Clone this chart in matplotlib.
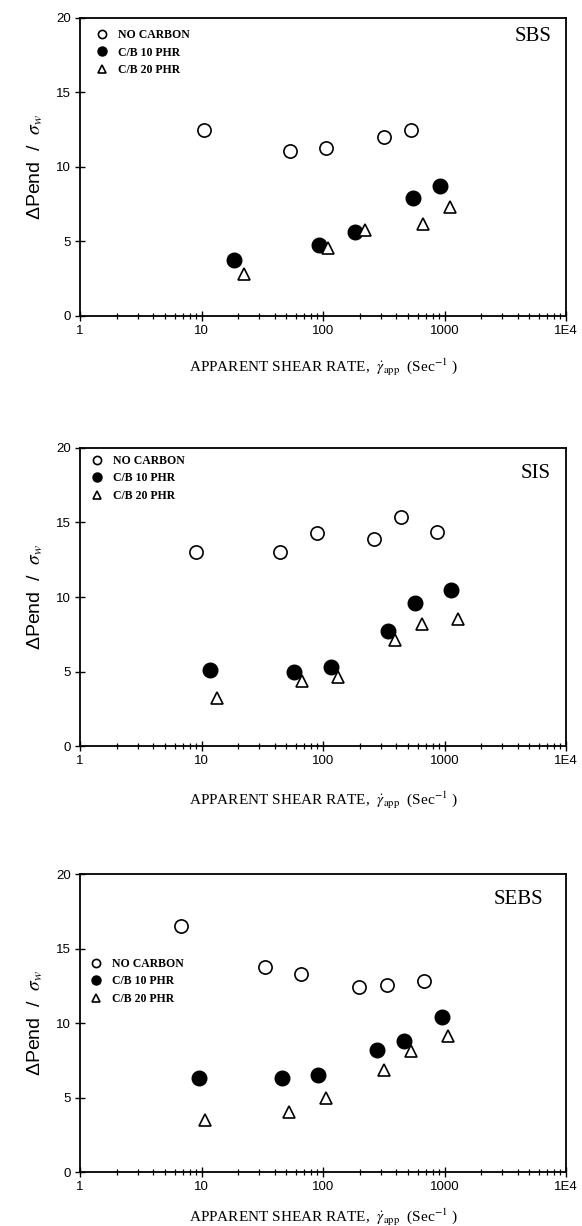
import matplotlib
matplotlib.use('Agg')
import matplotlib.pyplot as plt
import numpy as np

plt.rcParams['font.family'] = ['Liberation Sans', 'DejaVu Sans']
plt.rcParams['mathtext.fontset'] = 'stix'

# SBS
sbs_none_x = [10.5, 54, 106, 319, 529]
sbs_none_y = [12.5, 11.1, 11.3, 12.0, 12.5]
sbs_c10_x = [18.5, 92, 183, 552, 916]
sbs_c10_y = [3.75, 4.75, 5.6, 7.9, 8.7]
sbs_c20_x = [22.4, 110, 221, 667, 1115]
sbs_c20_y = [2.8, 4.55, 5.8, 6.2, 7.3]

# SIS
sis_none_x = [9.0, 44, 89, 264, 438, 872]
sis_none_y = [13.05, 13.05, 14.3, 13.9, 15.35, 14.35]
sis_c10_x = [11.7, 58, 117, 342, 572, 1130]
sis_c10_y = [5.1, 5.0, 5.3, 7.7, 9.6, 10.5]
sis_c20_x = [13.3, 67, 132, 394, 653, 1302]
sis_c20_y = [3.2, 4.35, 4.6, 7.1, 8.2, 8.5]

# SEBS
sebs_none_x = [6.8, 33, 66.5, 198, 335, 677]
sebs_none_y = [16.5, 13.75, 13.3, 12.4, 12.55, 12.85]
sebs_c10_x = [9.5, 46, 91, 277, 463, 948]
sebs_c10_y = [6.3, 6.3, 6.5, 8.2, 8.8, 10.4]
sebs_c20_x = [10.7, 52, 105, 315, 529, 1069]
sebs_c20_y = [3.5, 4.0, 4.95, 6.85, 8.15, 9.1]

labels = ['NO CARBON', 'C/B 10 PHR', 'C/B 20 PHR']
xticks = [1, 10, 100, 1000, 10000]
xticklabels = ['1', '10', '100', '1000', '1E4']
yticks = [0, 5, 10, 15, 20]

panels = [
    ('SBS', sbs_none_x, sbs_none_y, sbs_c10_x, sbs_c10_y, sbs_c20_x, sbs_c20_y),
    ('SIS', sis_none_x, sis_none_y, sis_c10_x, sis_c10_y, sis_c20_x, sis_c20_y),
    ('SEBS', sebs_none_x, sebs_none_y, sebs_c10_x, sebs_c10_y, sebs_c20_x, sebs_c20_y),
]

# layout (figure fractions)
ax_rects = [
    [0.1375, 0.7423, 0.835, 0.2431],
    [0.1375, 0.3915, 0.835, 0.2431],
    [0.1375, 0.0440, 0.835, 0.2431],
]
leg_anchor = [(0.034, 0.962), (0.022, 0.976), (0.020, 0.718)]
name_pos = [(0.971, 0.939), (0.969, 0.913), (0.953, 0.916)]
xlabel_pad = [14, 16, 10]

fig = plt.figure(figsize=(5.82, 12.26), dpi=100)

for i, (name, nx, ny, c1x, c1y, c2x, c2y) in enumerate(panels):
    ax = fig.add_axes(ax_rects[i])
    h1, = ax.plot(nx, ny, 'o', ms=9.5, mfc='white', mec='black', mew=1.2, ls='none', label=labels[0])
    h2, = ax.plot(c1x, c1y, 'o', ms=10.5, mfc='black', mec='black', mew=1.0, ls='none', label=labels[1])
    h3, = ax.plot(c2x, c2y, '^', ms=9, mfc='white', mec='black', mew=1.2, ls='none', label=labels[2])

    ax.set_xscale('log')
    ax.set_xlim(1, 10000)
    ax.set_ylim(0, 20)
    ax.set_xticks(xticks)
    ax.set_xticklabels(xticklabels)
    ax.set_yticks(yticks)
    ax.tick_params(axis='both', which='major', direction='inout', length=7, width=1.0,
                   labelsize=9.5, pad=3)
    ax.tick_params(axis='x', which='minor', direction='inout', length=4, width=0.9)
    ax.tick_params(axis='y', which='minor', left=False)
    for s in ax.spines.values():
        s.set_linewidth(1.3)

    leg = ax.legend(handles=[h1, h2, h3], loc='upper left', bbox_to_anchor=leg_anchor[i],
                    frameon=False, markerscale=0.62, handlelength=1.0, handletextpad=0.85,
                    borderaxespad=0, borderpad=0, labelspacing=0.45,
                    prop={'family': 'Liberation Serif', 'size': 8.5, 'weight': 'bold'})

    ax.text(name_pos[i][0], name_pos[i][1], name, transform=ax.transAxes, ha='right',
            va='center', fontsize=15, family='Liberation Serif')

    ax.set_ylabel('ΔPend  /  $\\sigma_w$', fontsize=14, labelpad=8)
    ax.set_xlabel('APPARENT SHEAR RATE,  $\\dot{\\gamma}_{\\mathrm{app}}$  (Sec$^{-1}$ )',
                  fontsize=11, family='Liberation Serif', labelpad=xlabel_pad[i])

fig.savefig('out.png', dpi=100)
